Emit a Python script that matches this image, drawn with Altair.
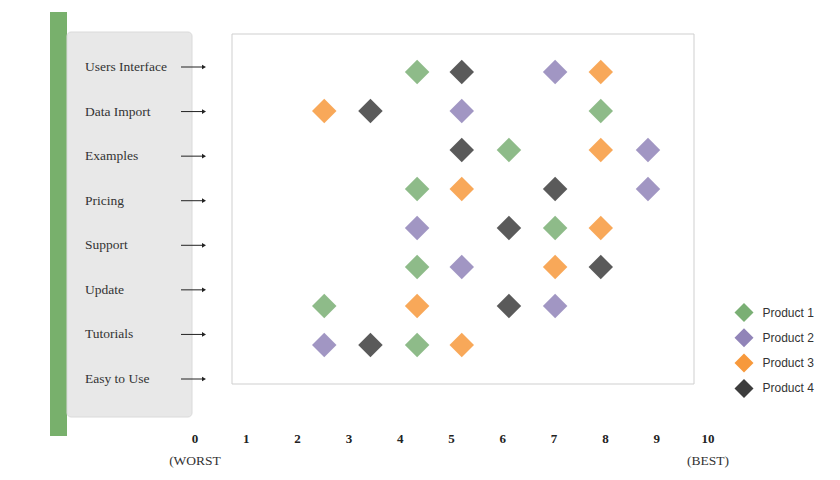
import pandas as pd
import altair as alt

# Rows of the comparison, top to bottom
features = ["Users Interface", "Data Import", "Examples", "Pricing",
            "Support", "Update", "Tutorials", "Easy to Use"]
products = ["Product 1", "Product 2", "Product 3", "Product 4"]
colors = ["#7aaf74", "#9184b8", "#f7993c", "#3d3d3d"]

# Scores (0 = worst, 10 = best), one per feature row
product_1 = [4.33, 7.91, 6.12, 4.33, 7.02, 4.33, 2.52, 4.33]
product_2 = [7.02, 5.20, 8.83, 8.83, 4.33, 5.20, 7.02, 2.52]
product_3 = [7.91, 2.52, 7.91, 5.20, 7.91, 7.02, 4.33, 5.20]
product_4 = [5.20, 3.42, 5.20, 7.02, 6.12, 7.91, 6.12, 3.42]

ticks = list(range(11))
end_values = [0, 10]
end_labels = ["(WORST", "(BEST)"]

scores = pd.DataFrame({
    "feature": features * 4,
    "product": [p for p in products for _ in features],
    "score": product_1 + product_2 + product_3 + product_4,
})
rows = pd.DataFrame({"feature": features})
tick_df = pd.DataFrame({"tick": ticks, "label": [str(t) for t in ticks]})
end_df = pd.DataFrame({"tick": end_values, "label": end_labels})
one = pd.DataFrame({"k": [0]})

x_scale = alt.Scale(domain=[0, 10], range=[187, 700])
label_y = alt.Scale(type="point", domain=features, range=[59, 371], padding=0)
point_y = alt.Scale(type="point", domain=features, range=[64, 337], padding=0)

# Decorations
green_bar = alt.Chart(one).mark_rect(color="#78b06c").encode(
    x=alt.value(42), x2=alt.value(59), y=alt.value(4), y2=alt.value(428)
)
panel = alt.Chart(one).mark_rect(
    fill="#e8e8e8", stroke="#dadada", strokeWidth=1, cornerRadius=4
).encode(x=alt.value(59), x2=alt.value(184), y=alt.value(24), y2=alt.value(409))
box = alt.Chart(one).mark_rect(
    fill="white", stroke="#cfcfcf", strokeWidth=1
).encode(x=alt.value(224), x2=alt.value(686), y=alt.value(26), y2=alt.value(376))

labels = alt.Chart(rows).mark_text(
    align="left", baseline="middle", font="Liberation Serif", fontSize=13.5, color="#333"
).encode(
    x=alt.value(77),
    y=alt.Y("feature:N", scale=label_y, axis=None),
    text="feature:N",
)
arrow_line = alt.Chart(rows).mark_rule(color="#222", strokeWidth=1).encode(
    x=alt.value(173), x2=alt.value(195),
    y=alt.Y("feature:N", scale=label_y, axis=None),
)
arrow_head = alt.Chart(rows).mark_point(
    shape="triangle-right", filled=True, size=22, color="#222", opacity=1
).encode(
    x=alt.value(196),
    y=alt.Y("feature:N", scale=label_y, axis=None),
)

points = alt.Chart(scores).mark_point(
    shape="diamond", filled=True, size=600, opacity=0.85
).encode(
    x=alt.X("score:Q", scale=x_scale, axis=None),
    y=alt.Y("feature:N", scale=point_y, axis=None),
    color=alt.Color(
        "product:N",
        scale=alt.Scale(domain=products, range=colors),
        legend=alt.Legend(
            title=None, orient="none", legendX=726.5, legendY=295,
            symbolType="diamond", symbolSize=361, symbolStrokeWidth=0,
            symbolOpacity=1, labelFont="Liberation Sans", labelFontSize=12,
            labelColor="#333", labelOffset=9, rowPadding=6.3, padding=0,
        ),
    ),
)

tick_text = alt.Chart(tick_df).mark_text(
    font="Liberation Serif", fontSize=13, fontWeight="bold", color="#222", baseline="middle"
).encode(
    x=alt.X("tick:Q", scale=x_scale, axis=None),
    y=alt.value(431),
    text="label:N",
)
end_text = alt.Chart(end_df).mark_text(
    font="Liberation Serif", fontSize=13.5, color="#333", baseline="middle"
).encode(
    x=alt.X("tick:Q", scale=x_scale, axis=None),
    y=alt.value(453),
    text="label:N",
)

chart = alt.layer(
    green_bar, panel, box, labels, arrow_line, arrow_head, points, tick_text, end_text
).resolve_scale(y="independent").properties(
    width=824, height=464,
    autosize=alt.AutoSizeParams(type="none"),
    padding=0,
    background="white",
).configure_view(stroke=None)

chart.save("out.html", embed_options={"renderer": "svg", "actions": False})
